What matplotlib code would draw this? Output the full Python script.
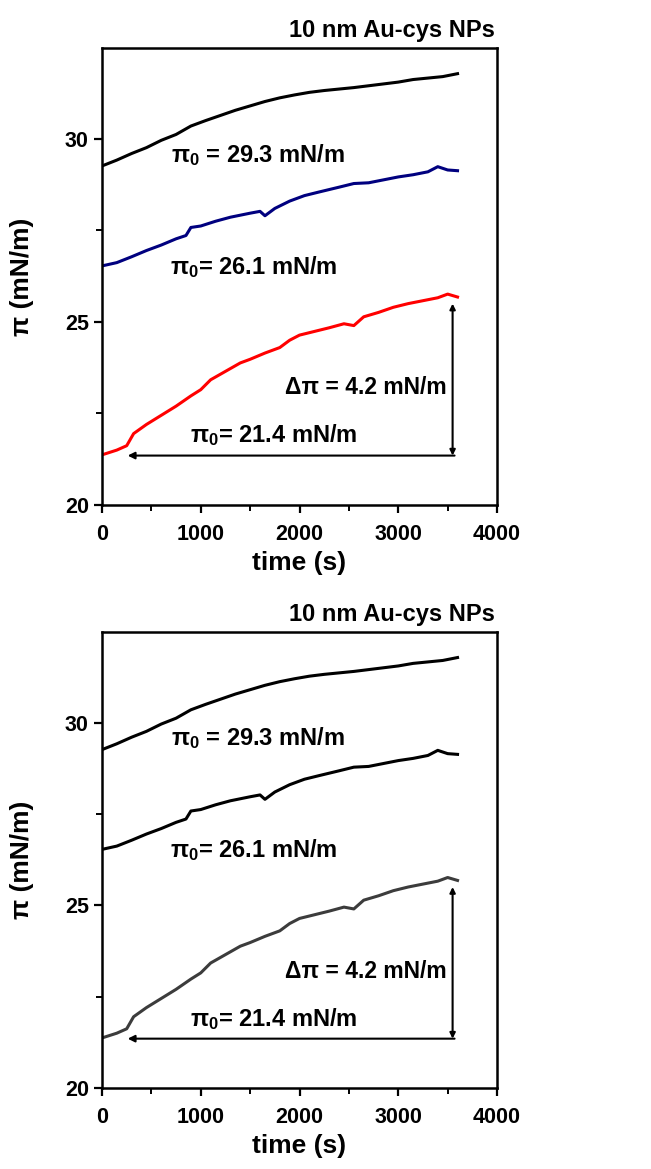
import matplotlib
matplotlib.use("Agg")
import matplotlib.pyplot as plt
from matplotlib.ticker import MultipleLocator

FONT = ["Liberation Sans", "DejaVu Sans"]
plt.rcParams["font.family"] = FONT
plt.rcParams["font.weight"] = "bold"
plt.rcParams["mathtext.fontset"] = "custom"
plt.rcParams["mathtext.rm"] = "Liberation Sans:bold"
plt.rcParams["mathtext.it"] = "Liberation Sans:bold"
plt.rcParams["mathtext.bf"] = "Liberation Sans:bold"

# time (s) sampled along the curves
time_high = [0, 150, 300, 450, 600, 750, 900, 1050, 1200, 1350, 1500, 1650, 1800,
             1950, 2100, 2250, 2400, 2550, 2700, 2850, 3000, 3150, 3300, 3450, 3600]
pi_high = [29.26, 29.42, 29.60, 29.76, 29.96, 30.12, 30.35, 30.50, 30.64, 30.78,
           30.90, 31.02, 31.12, 31.20, 31.27, 31.32, 31.36, 31.40, 31.45, 31.50,
           31.55, 31.62, 31.66, 31.70, 31.78]

time_mid = [0, 150, 300, 450, 600, 750, 850, 900, 1000, 1150, 1300, 1500, 1600,
            1650, 1750, 1900, 2050, 2200, 2400, 2550, 2700, 2850, 3000, 3150,
            3300, 3400, 3500, 3600]
pi_mid = [26.53, 26.62, 26.78, 26.95, 27.10, 27.27, 27.36, 27.58, 27.62, 27.75,
          27.86, 27.97, 28.02, 27.90, 28.10, 28.30, 28.45, 28.55, 28.68, 28.78,
          28.80, 28.88, 28.96, 29.02, 29.10, 29.24, 29.15, 29.13]

time_low = [0, 150, 250, 320, 450, 600, 750, 900, 1000, 1100, 1250, 1400, 1500,
            1650, 1800, 1900, 2000, 2150, 2300, 2450, 2550, 2650, 2800, 2950,
            3100, 3250, 3400, 3500, 3600]
pi_low = [21.37, 21.50, 21.62, 21.95, 22.20, 22.45, 22.70, 22.98, 23.15, 23.42,
          23.65, 23.88, 23.98, 24.15, 24.30, 24.50, 24.64, 24.74, 24.84, 24.95,
          24.90, 25.14, 25.26, 25.40, 25.50, 25.58, 25.66, 25.76, 25.68]

panel_colors = [["black", "#00007f", "#ff0000"],
                ["black", "black", "#3c3c3c"]]

title = "10 nm Au-cys NPs"
label_high = "\u03c0$_0$ = 29.3 mN/m"
label_mid = "\u03c0$_0$= 26.1 mN/m"
label_low = "\u03c0$_0$= 21.4 mN/m"
label_delta = "\u0394\u03c0 = 4.2 mN/m"

arrow_y = 21.35
arrow_x_left = 260
arrow_x_right = 3570
delta_x = 3550
delta_top = 25.5

fig = plt.figure(figsize=(6.51, 11.69), dpi=100)
boxes = [[0.1567, 0.568, 0.6068, 0.3909], [0.1567, 0.0693, 0.6068, 0.3901]]

for box, colors in zip(boxes, panel_colors):
    ax = fig.add_axes(box)
    ax.plot(time_high, pi_high, color=colors[0], lw=2.2)
    ax.plot(time_mid, pi_mid, color=colors[1], lw=2.2)
    ax.plot(time_low, pi_low, color=colors[2], lw=2.2)

    ax.set_xlim(0, 4000)
    ax.set_ylim(20, 32.48)
    ax.xaxis.set_major_locator(MultipleLocator(1000))
    ax.xaxis.set_minor_locator(MultipleLocator(500))
    ax.yaxis.set_major_locator(MultipleLocator(5))
    ax.yaxis.set_minor_locator(MultipleLocator(2.5))
    ax.tick_params(which="major", length=6, width=1.6, labelsize=15.5, direction="out")
    ax.tick_params(axis="x", which="major", pad=8)
    ax.tick_params(which="minor", length=4, width=1.4, direction="out")
    for sp in ax.spines.values():
        sp.set_linewidth(1.8)

    ax.set_xlabel("time (s)", fontsize=19, fontweight="bold", labelpad=4)
    ax.set_ylabel("\u03c0 (mN/m)", fontsize=19, fontweight="bold", labelpad=22)
    ax.set_title(title, loc="right", fontsize=17, fontweight="bold", pad=8, x=0.995)

    bbox = dict(facecolor="white", edgecolor="none", pad=1)
    ax.text(700, 29.57, label_high, fontsize=17, va="center", bbox=bbox)
    ax.text(690, 26.5, label_mid, fontsize=17, va="center", bbox=bbox)
    ax.text(1850, 23.2, label_delta, fontsize=16.5, va="center", bbox=bbox)
    ax.text(890, 21.9, label_low, fontsize=17, va="center", bbox=bbox)

    ax.annotate("", xy=(arrow_x_left, arrow_y), xytext=(arrow_x_right, arrow_y),
                arrowprops=dict(arrowstyle="-|>", color="black", lw=1.5,
                                mutation_scale=10, shrinkA=0, shrinkB=0))
    ax.annotate("", xy=(delta_x, delta_top), xytext=(delta_x, arrow_y),
                arrowprops=dict(arrowstyle="<|-|>", color="black", lw=1.5,
                                mutation_scale=8, shrinkA=0, shrinkB=0))

fig.savefig("out.png", dpi=100)
